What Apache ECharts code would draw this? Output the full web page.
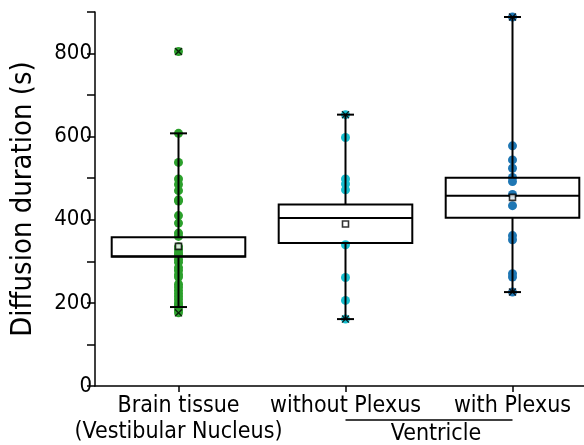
<!DOCTYPE html>
<html>
<head>
<meta charset="utf-8">
<script src="https://cdn.jsdelivr.net/npm/echarts@6/dist/echarts.min.js"></script>
<style>
  html, body { margin: 0; padding: 0; background: #ffffff; }
  #chart { width: 584px; height: 445px; }
</style>
</head>
<body>
<div id="chart"></div>
<script>
// Groups and their individual measurements (s)
const categories = ['Brain tissue\n(Vestibular Nucleus)', 'without Plexus', 'with Plexus'];
const brainTissue = [805, 608, 538, 498, 485, 470, 448, 445, 410, 392, 368, 360, 335, 328, 320,
  315, 305, 298, 285, 278, 268, 262, 245, 238, 230, 222, 215, 208, 200, 195, 190, 182, 176];
const withoutPlexus = [653, 598, 498, 486, 472, 340, 261, 206, 161];
const withPlexus = [888, 578, 544, 524, 502, 492, 461, 434, 362, 352, 270, 262, 226];

// Box summary per group
const whiskerLow = [190, 161, 226];
const quartile1 = [311, 344, 405];
const medians = [312, 404, 458];
const quartile3 = [358, 437, 501];
const whiskerHigh = [608, 653, 888];
const means = [336, 390, 454];

const groupLabel = 'Ventricle';
const yTitle = 'Diffusion duration (s)';
const pointColors = ['#2ca02c', '#17becf', '#1f77b4'];

const FONT = "'DejaVu Sans Condensed', 'DejaVu Sans', sans-serif";
const groups = [brainTissue, withoutPlexus, withPlexus];

const boxData = categories.map((c, i) =>
  [i, whiskerLow[i], quartile1[i], medians[i], quartile3[i], whiskerHigh[i]]);

const xMark = 'path://M0,1.2 L1.2,0 L5,3.8 L8.8,0 L10,1.2 L6.2,5 L10,8.8 L8.8,10 L5,6.2 L1.2,10 L0,8.8 L3.8,5 Z';

function renderBox(params, api) {
  const idx = api.value(0);
  const band = api.size([1, 0])[0];
  const half = band * 0.4;
  const capHalf = 8.5;
  const x = api.coord([idx, 0])[0];
  const y = k => api.coord([idx, api.value(k)])[1];
  const yLow = y(1), yQ1 = y(2), yMed = y(3), yQ3 = y(4), yHigh = y(5);
  const st = { stroke: '#000', lineWidth: 2, fill: null };
  return {
    type: 'group',
    children: [
      { type: 'line', shape: { x1: x, y1: yHigh, x2: x, y2: yQ3 }, style: st },
      { type: 'line', shape: { x1: x, y1: yQ1, x2: x, y2: yLow }, style: st },
      { type: 'line', shape: { x1: x - capHalf, y1: yHigh, x2: x + capHalf, y2: yHigh }, style: st },
      { type: 'line', shape: { x1: x - capHalf, y1: yLow, x2: x + capHalf, y2: yLow }, style: st },
      { type: 'rect', shape: { x: x - half, y: yQ3, width: half * 2, height: yQ1 - yQ3 },
        style: { stroke: '#000', lineWidth: 2, fill: 'transparent' } },
      { type: 'line', shape: { x1: x - half, y1: yMed, x2: x + half, y2: yMed }, style: st }
    ]
  };
}

const series = [];
groups.forEach((vals, i) => {
  series.push({
    type: 'scatter',
    data: vals.map(v => [i, v]),
    symbol: 'circle',
    symbolSize: 9,
    itemStyle: { color: pointColors[i], opacity: 1 },
    z: 2,
    silent: true
  });
});
series.push({
  type: 'custom',
  renderItem: renderBox,
  data: boxData,
  encode: { x: 0, y: [1, 2, 3, 4, 5] },
  z: 3,
  silent: true
});
series.push({
  type: 'scatter',
  data: means.map((m, i) => [i, m]),
  symbol: 'rect',
  symbolSize: 6,
  itemStyle: { color: '#fff', borderColor: '#000', borderWidth: 1.6 },
  z: 4,
  silent: true
});
series.push({
  type: 'scatter',
  data: groups.flatMap((vals, i) => [[i, Math.max(...vals)], [i, Math.min(...vals)]]),
  symbol: xMark,
  symbolSize: 8,
  itemStyle: { color: '#000' },
  z: 5,
  silent: true
});

const chart = echarts.init(document.getElementById('chart'), null, { renderer: 'canvas' });
chart.setOption({
  animation: false,
  backgroundColor: '#fff',
  grid: { left: 95, top: 12, width: 501, height: 374, containLabel: false, outerBoundsMode: 'none' },
  xAxis: {
    type: 'category',
    data: categories,
    boundaryGap: true,
    axisLine: { show: true, lineStyle: { color: '#000', width: 1.5 } },
    axisTick: { show: true, alignWithLabel: true, length: 6, lineStyle: { color: '#000', width: 1.5 } },
    axisLabel: { interval: 0, color: '#000', fontFamily: FONT, fontSize: 23, lineHeight: 26, margin: 7 },
    splitLine: { show: false }
  },
  yAxis: {
    type: 'value',
    min: 0,
    max: 900,
    interval: 100,
    name: yTitle,
    nameLocation: 'middle',
    nameGap: 57,
    nameTextStyle: { color: '#000', fontFamily: FONT, fontSize: 29 },
    axisLine: { show: true, lineStyle: { color: '#000', width: 1.5 } },
    axisTick: { show: true, length: 8, lineStyle: { color: '#000', width: 1.5 } },
    axisLabel: {
      color: '#000', fontFamily: FONT, fontSize: 22, margin: 3,
      formatter: v => (v % 200 === 0 ? String(v) : '')
    },
    splitLine: { show: false }
  },
  series: series
});

// Bracket under the two ventricle groups
const pA = chart.convertToPixel({ xAxisIndex: 0 }, categories[1]);
const pB = chart.convertToPixel({ xAxisIndex: 0 }, categories[2]);
const yBase = chart.convertToPixel({ yAxisIndex: 0 }, 0);
chart.setOption({
  graphic: [
    { type: 'line', shape: { x1: pA, y1: yBase + 34, x2: pB, y2: yBase + 34 },
      style: { stroke: '#000', lineWidth: 1.5 } },
    { type: 'text', x: (pA + pB) / 2 + 7, y: yBase + 48,
      style: { text: groupLabel, fill: '#000', font: '23px ' + FONT, align: 'center', verticalAlign: 'middle' } }
  ]
});
</script>
</body>
</html>
